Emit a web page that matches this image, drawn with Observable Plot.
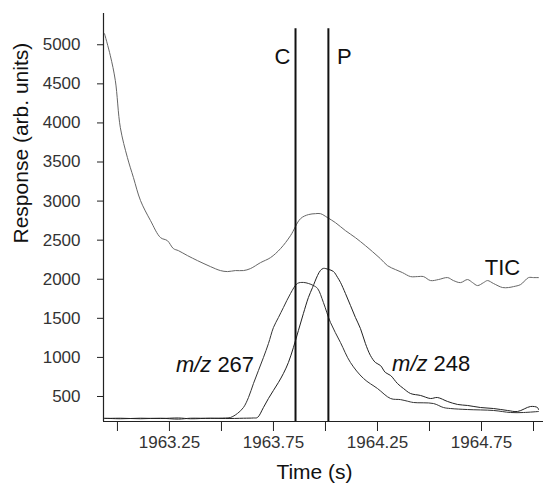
<!DOCTYPE html>
<html>
<head>
<meta charset="utf-8">
<script src="https://cdn.jsdelivr.net/npm/d3@7"></script>
<script src="https://cdn.jsdelivr.net/npm/@observablehq/plot@0.6"></script>
<style>
  html, body { margin: 0; padding: 0; background: #fff; }
</style>
</head>
<body>
<div id="chart"></div>
<script>
// ---- data ----
const ticTime = [1962.938, 1962.966, 1962.990, 1963.014, 1963.048, 1963.077, 1963.111, 1963.159, 1963.207, 1963.240,
  1963.269, 1963.293, 1963.337, 1963.385, 1963.447, 1963.495, 1963.529, 1963.567, 1963.606, 1963.639,
  1963.688, 1963.736, 1963.784, 1963.832, 1963.880, 1963.918, 1963.952, 1963.976, 1964.010, 1964.048,
  1964.096, 1964.144, 1964.192, 1964.226, 1964.264, 1964.298, 1964.337, 1964.370, 1964.409, 1964.442,
  1964.471, 1964.505, 1964.543, 1964.587, 1964.615, 1964.649, 1964.683, 1964.707, 1964.731, 1964.760,
  1964.779, 1964.808, 1964.851, 1964.880, 1964.904, 1964.938, 1964.976, 1965.000, 1965.024];
const ticValue = [5141, 4859, 4540, 3939, 3556, 3300, 3006, 2750, 2533, 2494,
  2392, 2366, 2302, 2238, 2162, 2111, 2098, 2111, 2111, 2136,
  2213, 2277, 2392, 2558, 2775, 2827, 2839, 2839, 2788, 2724,
  2622, 2532, 2430, 2353, 2264, 2174, 2123, 2085, 2034, 2034,
  2034, 1983, 1996, 2021, 1983, 1957, 1996, 1957, 1919, 1957,
  1983, 1945, 1894, 1894, 1906, 1932, 2021, 2021, 2021];

const mz267Time = [1962.938, 1963.014, 1963.111, 1963.207, 1963.293, 1963.351, 1963.447, 1963.519, 1963.543, 1963.577,
  1963.606, 1963.630, 1963.654, 1963.678, 1963.702, 1963.726, 1963.750, 1963.774, 1963.798, 1963.832,
  1963.865, 1963.894, 1963.918, 1963.942, 1963.962, 1963.990, 1964.024, 1964.072, 1964.120, 1964.183,
  1964.250, 1964.313, 1964.361, 1964.394, 1964.423, 1964.519, 1964.567, 1964.601, 1964.683, 1964.808,
  1964.889, 1964.952, 1965.024];
const mz267Value = [218, 222, 215, 222, 210, 222, 220, 225, 231, 283,
  360, 488, 667, 834, 1000, 1178, 1383, 1511, 1639, 1818,
  1946, 1959, 1946, 1920, 1882, 1703, 1447, 1191, 935, 730,
  602, 474, 460, 440, 423, 410, 359, 346, 333, 321,
  295, 295, 308];

const mz248Time = [1962.938, 1963.014, 1963.111, 1963.207, 1963.293, 1963.351, 1963.447, 1963.519, 1963.606, 1963.654,
  1963.673, 1963.702, 1963.726, 1963.750, 1963.774, 1963.798, 1963.822, 1963.846, 1963.870, 1963.894,
  1963.918, 1963.938, 1963.962, 1963.976, 1963.990, 1964.014, 1964.038, 1964.058, 1964.072, 1964.096,
  1964.120, 1964.144, 1964.168, 1964.192, 1964.216, 1964.240, 1964.264, 1964.288, 1964.313, 1964.346,
  1964.375, 1964.409, 1964.457, 1964.505, 1964.538, 1964.587, 1964.635, 1964.683, 1964.745, 1964.808,
  1964.875, 1964.923, 1964.986, 1965.019, 1965.024];
const mz248Value = [222, 215, 222, 218, 225, 215, 222, 218, 222, 225,
  231, 360, 475, 578, 680, 795, 936, 1128, 1345, 1563,
  1767, 1895, 2049, 2113, 2139, 2126, 2100, 2024, 1960, 1818,
  1665, 1511, 1370, 1178, 1025, 935, 897, 807, 769, 666,
  602, 538, 513, 474, 487, 436, 398, 385, 359, 346,
  321, 308, 372, 359, 333];

const yTicks = [500, 1000, 1500, 2000, 2500, 3000, 3500, 4000, 4500, 5000];
const xTickMarks = [1963.0, 1963.25, 1963.5, 1963.75, 1964.0, 1964.25, 1964.5, 1964.75, 1965.0];
const xTickLabels = [1963.25, 1963.75, 1964.25, 1964.75];

const markerNames = ["C", "P"];
const markerTime = [1963.856, 1964.014];
const markerLabelTime = [1963.793, 1964.091];

const seriesLabels = ["TIC"];
const seriesLabelTime = [1964.851];
const seriesLabelValue = [2060];

const ionNames = ["267", "248"];
const ionLabelTime = [1963.466, 1964.505];
const ionLabelValue = [807, 820];

const xTitle = "Time (s)";
const yTitle = "Response (arb. units)";

// ---- tables ----
const zip = (t, v) => t.map((d, i) => ({t: d, v: v[i]}));
const tic = zip(ticTime, ticValue);
const mz267 = zip(mz267Time, mz267Value);
const mz248 = zip(mz248Time, mz248Value);
const markers = markerNames.map((n, i) => ({name: n, t: markerTime[i], lt: markerLabelTime[i]}));
const sLabels = seriesLabels.map((n, i) => ({name: n, t: seriesLabelTime[i], v: seriesLabelValue[i]}));
const ions = ionNames.map((n, i) => ({name: n, t: ionLabelTime[i], v: ionLabelValue[i]}));

const xDomain = [1962.933, 1965.048];
const yDomain = [180, 5400];
const font = "'Liberation Sans', Arial, Helvetica, sans-serif";

const chart = Plot.plot({
  width: 543,
  height: 485,
  marginTop: 13,
  marginBottom: 64,
  marginLeft: 103,
  marginRight: 0,
  style: {fontFamily: font, background: "white", color: "#222", overflow: "visible"},
  x: {domain: xDomain, axis: null},
  y: {domain: yDomain, axis: null},
  marks: [
    Plot.axisY(yTicks, {tickSize: 6, tickPadding: 17, fontSize: 17, fill: "#333", stroke: "#222", tickFormat: d3.format("d"), label: null}),
    Plot.axisX(xTickMarks, {tickSize: 10, tickFormat: () => "", stroke: "#222", label: null}),
    Plot.axisX(xTickLabels, {tickSize: 0, tickPadding: 14, fontSize: 17, fill: "#333", tickFormat: d => d.toFixed(2), label: null}),
    Plot.ruleX([xDomain[0]], {stroke: "#222", strokeWidth: 1.2}),
    Plot.ruleY([yDomain[0]], {stroke: "#222", strokeWidth: 1.2}),
    Plot.line(tic, {x: "t", y: "v", stroke: "#666", strokeWidth: 1, curve: "catmull-rom"}),
    Plot.line(mz267, {x: "t", y: "v", stroke: "#333", strokeWidth: 1, curve: "catmull-rom"}),
    Plot.line(mz248, {x: "t", y: "v", stroke: "#222", strokeWidth: 1, curve: "catmull-rom"}),
    Plot.ruleX(markers, {x: "t", y1: yDomain[0], y2: 5205, stroke: "#111", strokeWidth: 2}),
    Plot.text(markers, {x: "lt", y: 4757, text: "name", fontSize: 22, fill: "#111", lineAnchor: "bottom", textAnchor: "middle"}),
    Plot.text(sLabels, {x: "t", y: "v", text: "name", fontSize: 22, fill: "#111", lineAnchor: "bottom", textAnchor: "middle"}),
    Plot.text(ions, {x: "t", y: "v", text: () => "m/z", fontSize: 22, fontStyle: "italic", fill: "#111", lineAnchor: "bottom", textAnchor: "end", dx: -3}),
    Plot.text(ions, {x: "t", y: "v", text: "name", fontSize: 22, fill: "#111", lineAnchor: "bottom", textAnchor: "start", dx: 3}),
    Plot.text([xTitle], {frameAnchor: "bottom", text: d => d, fontSize: 21, fill: "#111", lineAnchor: "bottom", dx: -9, dy: 57}),
    Plot.text([yTitle], {frameAnchor: "left", text: d => d, fontSize: 21, fill: "#111", rotate: -90, dx: -82, dy: 26})
  ]
});
document.getElementById("chart").appendChild(chart);
</script>
</body>
</html>
